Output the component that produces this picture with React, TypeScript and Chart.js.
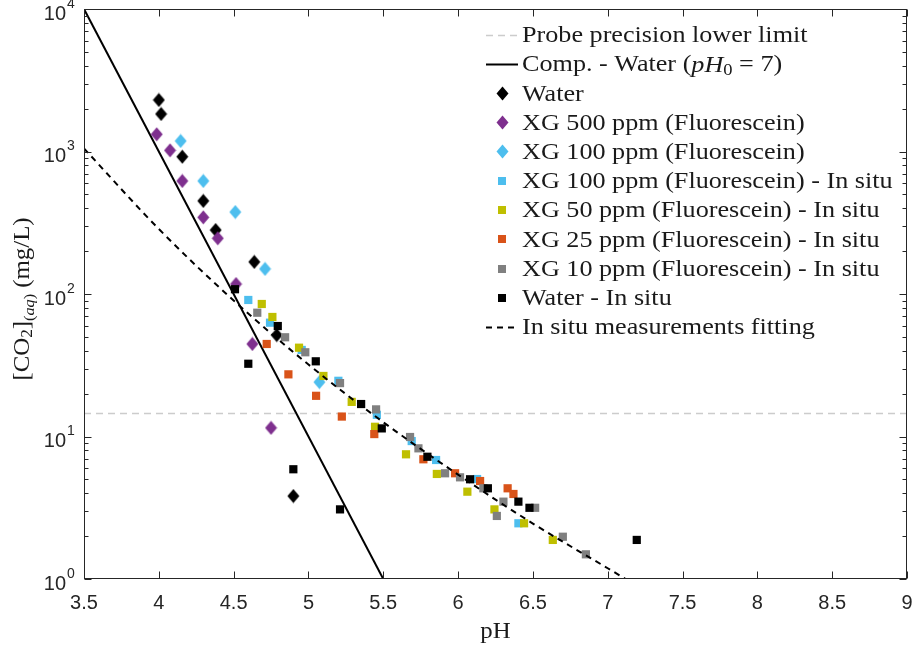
import React, { useEffect, useRef } from 'react';
import { Chart, registerables } from 'chart.js';

Chart.register(...registerables);

// ---------------- data ----------------
const xTicks = [3.5, 4, 4.5, 5, 5.5, 6, 6.5, 7, 7.5, 8, 8.5, 9];
const xTickLabels = ['3.5', '4', '4.5', '5', '5.5', '6', '6.5', '7', '7.5', '8', '8.5', '9'];
const yTicks = [1, 10, 100, 1000, 10000];
const yTickExponents = ['0', '1', '2', '3', '4'];

const probePH = [3.5, 9];
const probeCO2 = [14.5, 14.5];

const compPH = [3.5, 5.5];
const compCO2 = [10000, 1];

const fitPH = [3.5, 4, 4.5, 5, 5.5, 6, 6.5, 7, 7.12];
const fitCO2 = [1050, 286, 90, 32, 12.6, 5.4, 2.45, 1.19, 1.0];

const waterPH = [4.0, 4.015, 4.157, 4.297, 4.38, 4.638, 4.788, 4.899];
const waterCO2 = [2300, 1833, 919, 450, 281, 168, 51.5, 3.82];

const xg500PH = [3.986, 4.075, 4.157, 4.297, 4.394, 4.516, 4.625, 4.75];
const xg500CO2 = [1321, 1019, 621, 345, 246, 117.5, 44.6, 11.5];

const xg100PH = [4.146, 4.297, 4.511, 4.71, 5.073];
const xg100CO2 = [1185, 621, 376, 150, 24.1];

const xg100sPH = [4.598, 4.743, 4.955, 5.2, 5.457, 5.69, 5.853, 6.127, 6.403];
const xg100sCO2 = [90.8, 62.9, 40.5, 24.6, 14.2, 9.29, 6.84, 5.03, 2.46];

const xg50sPH = [4.688, 4.759, 4.937, 5.1, 5.289, 5.445, 5.652, 5.858, 6.062, 6.243, 6.441, 6.633];
const xg50sCO2 = [85.1, 69.0, 42.0, 26.6, 17.5, 11.7, 7.5, 5.46, 4.1, 3.08, 2.46, 1.88];

const xg25sPH = [4.721, 4.866, 5.051, 5.223, 5.44, 5.768, 5.98, 6.147, 6.331, 6.37];
const xg25sCO2 = [44.6, 27.3, 19.3, 13.8, 10.4, 6.92, 5.52, 4.87, 4.33, 3.95];

const xg10sPH = [4.658, 4.844, 4.979, 5.211, 5.452, 5.679, 5.735, 5.913, 6.013, 6.169, 6.303, 6.259, 6.515, 6.7, 6.854];
const xg10sCO2 = [73.9, 49.7, 39.0, 23.7, 15.5, 9.92, 8.26, 5.52, 5.17, 4.33, 3.49, 2.77, 3.16, 1.98, 1.49];

const waterSPH = [4.509, 4.598, 4.795, 5.049, 4.899, 5.211, 5.352, 5.49, 5.795, 6.08, 6.199, 6.403, 6.477, 7.194];
const waterSCO2 = [108, 32.4, 59.6, 33.7, 5.89, 3.08, 16.9, 11.4, 7.21, 5.01, 4.33, 3.49, 3.16, 1.88];

const seriesLabels = [
  'Probe precision lower limit',
  'Comp. - Water (pH0 = 7)',
  'Water',
  'XG 500 ppm (Fluorescein)',
  'XG 100 ppm (Fluorescein)',
  'XG 100 ppm (Fluorescein) - In situ',
  'XG 50 ppm (Fluorescein) - In situ',
  'XG 25 ppm (Fluorescein) - In situ',
  'XG 10 ppm (Fluorescein) - In situ',
  'Water - In situ',
  'In situ measurements fitting',
];

// ---------------- styles ----------------
const SERIF = '"Liberation Serif", "DejaVu Serif", serif';
const SANS = '"Liberation Sans", Arial, sans-serif';
const AXIS_COLOR = '#262626';
const C_BLACK = '#000000';
const C_PURPLE = '#7E2F8E';
const C_BLUE = '#4DBEEE';
const C_YELLOW = '#BFBF00';
const C_ORANGE = '#D95319';
const C_GRAY = '#808080';
const C_PROBE = '#CCCCCC';

const toPts = (xs: number[], ys: number[]) => xs.map((x, i) => ({ x, y: ys[i] }));

function makeDiamond(color: string): HTMLCanvasElement {
  const c = document.createElement('canvas');
  c.width = 13;
  c.height = 15;
  const g = c.getContext('2d')!;
  g.fillStyle = color;
  g.beginPath();
  g.moveTo(6.5, 0.5);
  g.lineTo(12.5, 7.5);
  g.lineTo(6.5, 14.5);
  g.lineTo(0.5, 7.5);
  g.closePath();
  g.fill();
  return c;
}

type Seg = { t: string; f: string; dy?: number };

function drawRich(
  ctx: CanvasRenderingContext2D,
  segs: Seg[],
  x: number,
  y: number,
  align: 'left' | 'center',
  sx = 1
) {
  let total = 0;
  for (const s of segs) {
    ctx.font = s.f;
    total += ctx.measureText(s.t).width;
  }
  ctx.save();
  ctx.translate(x, y);
  ctx.scale(sx, 1);
  let cx = align === 'center' ? -total / 2 : 0;
  ctx.textAlign = 'left';
  for (const s of segs) {
    ctx.font = s.f;
    ctx.fillText(s.t, cx, s.dy || 0);
    cx += ctx.measureText(s.t).width;
  }
  ctx.restore();
}

export default function App() {
  const ref = useRef<HTMLCanvasElement | null>(null);

  useEffect(() => {
    const canvas = ref.current;
    if (!canvas) return;

    const diamonds: Record<string, HTMLCanvasElement> = {
      black: makeDiamond(C_BLACK),
      purple: makeDiamond(C_PURPLE),
      blue: makeDiamond(C_BLUE),
    };

    const squareDs = (label: string, xs: number[], ys: number[], color: string) => ({
      label,
      data: toPts(xs, ys),
      pointStyle: 'rect' as const,
      pointRadius: 5.8,
      borderWidth: 0,
      backgroundColor: color,
      borderColor: color,
      showLine: false,
    });
    const diamondDs = (label: string, xs: number[], ys: number[], img: HTMLCanvasElement) => ({
      label,
      data: toPts(xs, ys),
      pointStyle: img,
      pointRadius: 7,
      showLine: false,
    });

    const datasets: any[] = [
      {
        label: seriesLabels[0],
        data: toPts(probePH, probeCO2),
        showLine: true,
        pointRadius: 0,
        borderColor: C_PROBE,
        borderWidth: 1.6,
        borderDash: [7, 5],
      },
      {
        label: seriesLabels[1],
        data: toPts(compPH, compCO2),
        showLine: true,
        pointRadius: 0,
        borderColor: C_BLACK,
        borderWidth: 2,
      },
      diamondDs(seriesLabels[2], waterPH, waterCO2, diamonds.black),
      diamondDs(seriesLabels[3], xg500PH, xg500CO2, diamonds.purple),
      diamondDs(seriesLabels[4], xg100PH, xg100CO2, diamonds.blue),
      squareDs(seriesLabels[5], xg100sPH, xg100sCO2, C_BLUE),
      squareDs(seriesLabels[6], xg50sPH, xg50sCO2, C_YELLOW),
      squareDs(seriesLabels[7], xg25sPH, xg25sCO2, C_ORANGE),
      squareDs(seriesLabels[8], xg10sPH, xg10sCO2, C_GRAY),
      squareDs(seriesLabels[9], waterSPH, waterSCO2, C_BLACK),
      {
        label: seriesLabels[10],
        data: toPts(fitPH, fitCO2),
        showLine: true,
        pointRadius: 0,
        borderColor: C_BLACK,
        borderWidth: 2,
        borderDash: [6, 5],
        cubicInterpolationMode: 'monotone',
      },
    ];
    const N = datasets.length;
    datasets.forEach((d, i) => (d.order = N - i));

    const framePlugin = {
      id: 'frame',
      afterDraw(chart: any) {
        const ctx: CanvasRenderingContext2D = chart.ctx;
        const { left, right, top, bottom } = chart.chartArea;
        const xs = chart.scales.x;
        const ys = chart.scales.y;
        ctx.save();
        ctx.strokeStyle = AXIS_COLOR;
        ctx.lineWidth = 1;
        const L = Math.round(left) + 0.5;
        const R = Math.round(right) - 0.5;
        const T = Math.round(top) + 0.5;
        const B = Math.round(bottom) - 0.5;
        ctx.strokeRect(L, T, R - L, B - T);

        ctx.beginPath();
        xTicks.forEach((v) => {
          const px = Math.round(xs.getPixelForValue(v)) + 0.5;
          ctx.moveTo(px, B);
          ctx.lineTo(px, B - 7);
          ctx.moveTo(px, T);
          ctx.lineTo(px, T + 7);
        });
        yTicks.forEach((v, i) => {
          const py = Math.round(ys.getPixelForValue(v)) + 0.5;
          ctx.moveTo(L, py);
          ctx.lineTo(L + 7, py);
          ctx.moveTo(R, py);
          ctx.lineTo(R - 7, py);
          if (i < yTicks.length - 1) {
            for (let m = 2; m <= 9; m++) {
              const pm = Math.round(ys.getPixelForValue(v * m)) + 0.5;
              ctx.moveTo(L, pm);
              ctx.lineTo(L + 4, pm);
              ctx.moveTo(R, pm);
              ctx.lineTo(R - 4, pm);
            }
          }
        });
        ctx.stroke();

        // tick labels
        ctx.fillStyle = AXIS_COLOR;
        ctx.font = `20px ${SANS}`;
        ctx.textAlign = 'center';
        ctx.textBaseline = 'middle';
        xTicks.forEach((v, i) => {
          const px = xs.getPixelForValue(v);
          ctx.fillText(xTickLabels[i], px, bottom + 24);
        });
        yTicks.forEach((v, i) => {
          const py = ys.getPixelForValue(v);
          ctx.font = `20px ${SANS}`;
          ctx.textAlign = 'right';
          ctx.fillText('10', left - 18, py + 5);
          ctx.font = `14px ${SANS}`;
          ctx.textAlign = 'left';
          ctx.fillText(yTickExponents[i], left - 17, py - 5);
        });

        // axis titles
        ctx.fillStyle = '#1a1a1a';
        ctx.textBaseline = 'middle';
        drawRich(ctx, [{ t: 'pH', f: `23px ${SERIF}` }], (left + right) / 2, 632, 'center', 1.08);

        ctx.save();
        ctx.translate(23, 299);
        ctx.rotate(-Math.PI / 2);
        drawRich(
          ctx,
          [
            { t: '[CO', f: `23px ${SERIF}` },
            { t: '2', f: `16px ${SERIF}`, dy: 5 },
            { t: ']', f: `23px ${SERIF}` },
            { t: '(', f: `15px ${SERIF}`, dy: 7 },
            { t: 'aq', f: `italic 15px ${SERIF}`, dy: 7 },
            { t: ')', f: `15px ${SERIF}`, dy: 7 },
            { t: ' (mg/L)', f: `23px ${SERIF}` },
          ],
          0,
          0,
          'center',
          1.08
        );
        ctx.restore();

        // legend
        const rowY0 = 35;
        const rowH = 29.2;
        const symX = 502;
        const lineX0 = 486;
        const lineX1 = 518;
        const textX = 522;
        const lf = `24px ${SERIF}`;
        const SX = 1.09;
        const legendKinds = ['dashGray', 'line', 'dia', 'dia', 'dia', 'sq', 'sq', 'sq', 'sq', 'sq', 'dash'];
        datasets.forEach((d, i) => {
          const y = rowY0 + i * rowH;
          const kind = legendKinds[i];
          ctx.save();
          if (kind === 'dashGray' || kind === 'line' || kind === 'dash') {
            ctx.strokeStyle = d.borderColor;
            ctx.lineWidth = d.borderWidth;
            ctx.setLineDash(d.borderDash || []);
            ctx.beginPath();
            ctx.moveTo(lineX0, Math.round(y) + 0.5);
            ctx.lineTo(lineX1, Math.round(y) + 0.5);
            ctx.stroke();
          } else if (kind === 'dia') {
            const img = d.pointStyle as HTMLCanvasElement;
            ctx.drawImage(img, Math.round(symX - img.width / 2), Math.round(y - img.height / 2));
          } else {
            ctx.fillStyle = d.backgroundColor;
            ctx.fillRect(symX - 4, Math.round(y) - 4, 8, 8);
          }
          ctx.restore();
          ctx.fillStyle = '#1a1a1a';
          ctx.textBaseline = 'middle';
          if (i === 1) {
            drawRich(
              ctx,
              [
                { t: 'Comp. - Water (', f: lf },
                { t: 'pH', f: `italic ${lf}` },
                { t: '0', f: `17px ${SERIF}`, dy: 5 },
                { t: ' = 7)', f: lf },
              ],
              textX,
              y + 1,
              'left',
              SX
            );
          } else {
            drawRich(ctx, [{ t: d.label, f: lf }], textX, y + 1, 'left', SX);
          }
        });

        ctx.restore();
      },
    };

    const chart = new Chart(canvas, {
      type: 'scatter',
      data: { datasets },
      options: {
        animation: false,
        responsive: false,
        maintainAspectRatio: false,
        events: [],
        layout: { padding: { left: 84, top: 9, right: 8, bottom: 69 } },
        plugins: {
          legend: { display: false },
          tooltip: { enabled: false },
        },
        scales: {
          x: { type: 'linear', min: 3.5, max: 9, display: false },
          y: { type: 'logarithmic', min: 1, max: 10000, display: false },
        },
      },
      plugins: [framePlugin],
    } as any);

    return () => chart.destroy();
  }, []);

  return (
    <div style={{ position: 'fixed', left: 0, top: 0, width: 915, height: 648, background: '#fff' }}>
      <canvas ref={ref} width={915} height={648} style={{ display: 'block', width: 915, height: 648 }} />
    </div>
  );
}
